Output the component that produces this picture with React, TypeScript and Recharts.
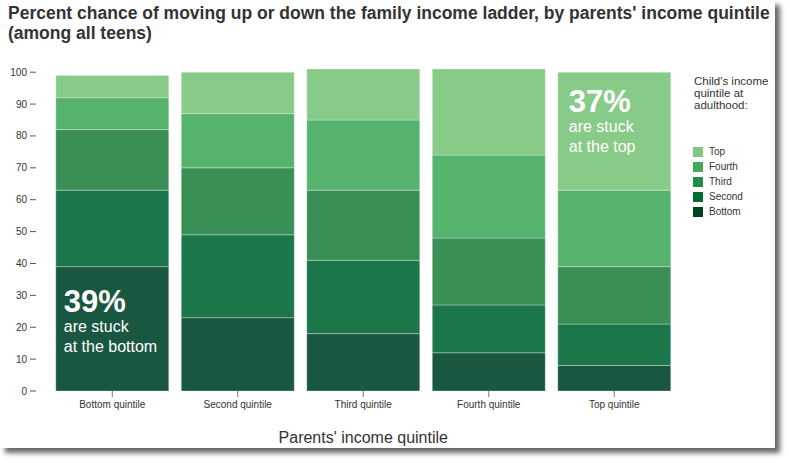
import React from "react";
import { BarChart, Bar, XAxis, YAxis, LabelList, Label } from "recharts";

const quintiles = [
  "Bottom quintile",
  "Second quintile",
  "Third quintile",
  "Fourth quintile",
  "Top quintile",
];

// child's adulthood quintile shares (%), per parents' quintile
const bottomVals = [39, 23, 18, 12, 8];
const secondVals = [24, 26, 23, 15, 13];
const thirdVals = [19, 21, 22, 21, 18];
const fourthVals = [10, 17, 22, 26, 24];
const topVals = [7, 13, 16, 27, 37];

const yTicks = [0, 10, 20, 30, 40, 50, 60, 70, 80, 90, 100];

const seriesKeys = ["bottom", "second", "third", "fourth", "top"];
const barColors = ["#1a5740", "#1b774a", "#3a8f57", "#55b36d", "#88cb88"];

const legendTitle = ["Child's income", "quintile at", "adulthood:"];
const legendLabels = ["Top", "Fourth", "Third", "Second", "Bottom"];
const legendColors = ["#7fc97f", "#41ab5d", "#238b45", "#006d2c", "#00441b"];

const bottomNote = ["39%", "are stuck", "at the bottom"];
const topNote = ["37%", "are stuck", "at the top"];

const data = quintiles.map((name, i) => ({
  name,
  bottom: bottomVals[i],
  second: secondVals[i],
  third: thirdVals[i],
  fourth: fourthVals[i],
  top: topVals[i],
}));

const FONT = "Arial, 'Liberation Sans', sans-serif";

function YTick({ x, y, payload }: any) {
  return (
    <g>
      <text
        x={x - 14.5}
        y={y}
        dy={3.5}
        textAnchor="end"
        fontSize={10}
        fill="#333"
        fontFamily={FONT}
      >
        {payload.value}
      </text>
      <line x1={x - 11.5} x2={x - 5.5} y1={y} y2={y} stroke="#555" strokeWidth={1} />
    </g>
  );
}

function noteLabel(lines: string[], target: number, dx: number, b1: number) {
  return (props: any) => {
    const { x, y, index } = props;
    if (index !== target) return null;
    return (
      <g fontFamily={FONT} fill="#fff">
        <text x={x + dx} y={y + b1} fontSize={31} fontWeight="bold">
          {lines[0]}
        </text>
        <text x={x + dx} y={y + b1 + 20} fontSize={16}>
          {lines[1]}
        </text>
        <text x={x + dx} y={y + b1 + 40} fontSize={16}>
          {lines[2]}
        </text>
      </g>
    );
  };
}

export default function App() {
  return (
    <div
      style={{
        position: "absolute",
        left: 0,
        top: 0,
        width: 790,
        height: 463,
        background: "#fff",
        fontFamily: FONT,
      }}
    >
      <div
        style={{
          position: "absolute",
          left: 0,
          top: 0,
          width: 775,
          height: 448,
          background: "#fff",
          boxShadow: "5px 5px 5px rgba(0,0,0,0.6)",
        }}
      >
        <div
          style={{
            position: "absolute",
            left: 8,
            top: 3,
            fontSize: 17.5,
            fontWeight: "bold",
            lineHeight: "20px",
            color: "#333",
            whiteSpace: "nowrap",
          }}
        >
          Percent chance of moving up or down the family income ladder, by parents' income quintile
          <br />
          (among all teens)
        </div>

        <BarChart
          width={775}
          height={448}
          data={data}
          margin={{ top: 69, right: 98, bottom: 5, left: 9 }}
          barCategoryGap="5%"
          style={{ position: "absolute", left: 0, top: 0 }}
        >
          <XAxis
            dataKey="name"
            axisLine={false}
            tickLine={{ stroke: "#777" }}
            tickMargin={4}
            height={52}
            tick={{ fontSize: 10, fill: "#333", fontFamily: FONT }}
          >
            <Label
              value="Parents' income quintile"
              position="insideBottom"
              offset={0}
              style={{ fontSize: 16, fill: "#333", fontFamily: FONT }}
            />
          </XAxis>
          <YAxis
            domain={[0, 101]}
            ticks={yTicks}
            interval={0}
            width={40.5}
            axisLine={false}
            tickLine={false}
            tick={<YTick />}
          />
          {seriesKeys.map((k, i) => (
            <Bar
              key={k}
              dataKey={k}
              stackId="a"
              fill={barColors[i]}
              stroke="rgba(255,255,255,0.3)"
              strokeWidth={1}
              isAnimationActive={false}
            >
              {k === "bottom" && (
                <LabelList dataKey={k} content={noteLabel(bottomNote, 0, 8, 45)} />
              )}
              {k === "top" && (
                <LabelList dataKey={k} content={noteLabel(topNote, 4, 11, 40)} />
              )}
            </Bar>
          ))}
        </BarChart>

        <div
          style={{
            position: "absolute",
            left: 694,
            top: 75,
            fontSize: 11.5,
            color: "#333",
          }}
        >
          {legendTitle.map((t) => (
            <div key={t} style={{ height: 12, lineHeight: "12px", overflow: "visible" }}>
              {t}
            </div>
          ))}
        </div>
        <div style={{ position: "absolute", left: 693, top: 147 }}>
          {legendLabels.map((l, i) => (
            <div
              key={l}
              style={{ display: "flex", alignItems: "center", height: 15 }}
            >
              <div
                style={{
                  width: 10,
                  height: 10,
                  background: legendColors[i],
                  marginRight: 6,
                  alignSelf: "flex-start",
                }}
              />
              <span
                style={{
                  fontSize: 10,
                  color: "#333",
                  lineHeight: "10px",
                  alignSelf: "flex-start",
                }}
              >
                {l}
              </span>
            </div>
          ))}
        </div>
      </div>
    </div>
  );
}
